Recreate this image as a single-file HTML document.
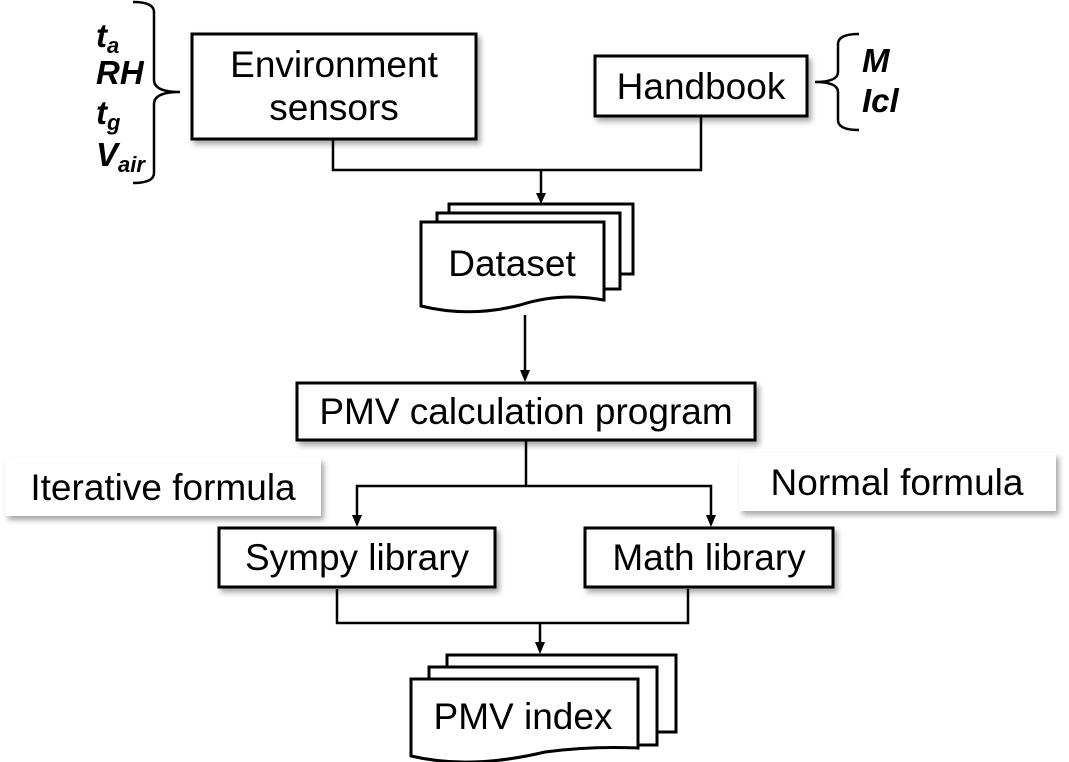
<!DOCTYPE html>
<html><head><meta charset="utf-8"><style>
html,body{margin:0;padding:0;background:#fff;}
svg{display:block;}
text{font-family:"Liberation Sans",Arial,sans-serif;fill:#000;}
.t{font-size:37px;}
.v{font-size:33px;font-weight:bold;font-style:italic;}
.s{font-size:22px;}
</style></head><body>
<svg width="1069" height="762" viewBox="0 0 1069 762" xmlns="http://www.w3.org/2000/svg">
<defs>
<filter id="sh" x="-10%" y="-10%" width="130%" height="140%">
<feGaussianBlur in="SourceAlpha" stdDeviation="3"/>
<feOffset dx="3" dy="4" result="b"/>
<feComponentTransfer><feFuncA type="linear" slope="0.35"/></feComponentTransfer>
<feMerge><feMergeNode/><feMergeNode in="SourceGraphic"/></feMerge>
</filter>
</defs>

<path d="M133,2 Q154,2 154,12 L154,80 Q154,92 180,92 Q154,92 154,104 L154,173 Q154,183 133,183" fill="none" stroke="#000" stroke-width="2.5"/>
<text class="v" x="96" y="47">t<tspan class="s" dy="6">a</tspan></text>
<text class="v" x="96" y="84">RH</text>
<text class="v" x="96" y="124">t<tspan class="s" dy="6">g</tspan></text>
<text class="v" x="96" y="166">V<tspan class="s" dy="6">air</tspan></text>

<rect x="192" y="34" width="284" height="105" fill="#fff" stroke="#000" stroke-width="3" filter="url(#sh)"/>
<text class="t" x="334" y="77" text-anchor="middle">Environment</text>
<text class="t" x="334" y="120" text-anchor="middle">sensors</text>

<rect x="595" y="56" width="212" height="60" fill="#fff" stroke="#000" stroke-width="3" filter="url(#sh)"/>
<text class="t" x="701" y="99" text-anchor="middle">Handbook</text>

<path d="M859,34 Q838,34 838,44 L838,72 Q838,82 815,82 Q838,82 838,92 L838,120 Q838,130 859,130" fill="none" stroke="#000" stroke-width="2.5"/>
<text class="v" x="862" y="72">M</text>
<text class="v" x="862" y="112">Icl</text>

<path d="M333,139 L333,170 L701,170 L701,116" fill="none" stroke="#000" stroke-width="2.5"/>
<line x1="541" y1="170" x2="541" y2="195" stroke="#000" stroke-width="2.5"/>
<path d="M536,193 L546,193 L541,204 Z" fill="#000"/>

<g stroke="#000" stroke-width="3" fill="#fff">
<rect x="449" y="204" width="184" height="70"/>
<rect x="437" y="213" width="183" height="76"/>
<path d="M421,222 L604,222 L604,300 Q560,292 520,305 Q470,318 421,306 Z"/>
</g>
<text class="t" x="512" y="276" text-anchor="middle">Dataset</text>

<line x1="525" y1="315" x2="525" y2="372" stroke="#000" stroke-width="2.5"/>
<path d="M520,370 L530,370 L525,382 Z" fill="#000"/>

<rect x="297" y="383" width="458" height="57" fill="#fff" stroke="#000" stroke-width="3" filter="url(#sh)"/>
<text class="t" x="526" y="424" text-anchor="middle">PMV calculation program</text>

<path d="M526,440 L526,486" fill="none" stroke="#000" stroke-width="2.5"/>
<path d="M357,518 L357,486 L711,486 L711,518" fill="none" stroke="#000" stroke-width="2.5"/>
<path d="M352,515 L362,515 L357,527 Z" fill="#000"/>
<path d="M706,515 L716,515 L711,527 Z" fill="#000"/>

<rect x="5" y="458" width="316" height="58" fill="#fff" filter="url(#sh)"/>
<text class="t" x="163" y="500" text-anchor="middle">Iterative formula</text>
<rect x="739" y="453" width="317" height="58" fill="#fff" filter="url(#sh)"/>
<text class="t" x="897" y="495" text-anchor="middle">Normal formula</text>

<rect x="219" y="528" width="276" height="59" fill="#fff" stroke="#000" stroke-width="3" filter="url(#sh)"/>
<text class="t" x="357" y="570" text-anchor="middle">Sympy library</text>
<rect x="585" y="528" width="248" height="59" fill="#fff" stroke="#000" stroke-width="3" filter="url(#sh)"/>
<text class="t" x="709" y="570" text-anchor="middle">Math library</text>

<path d="M337,589 L337,623 L688,623 L688,589" fill="none" stroke="#000" stroke-width="2.5"/>
<line x1="540" y1="623" x2="540" y2="644" stroke="#000" stroke-width="2.5"/>
<path d="M535,642 L545,642 L540,654 Z" fill="#000"/>

<g stroke="#000" stroke-width="3" fill="#fff">
<rect x="447" y="655" width="229" height="77"/>
<rect x="429" y="667" width="228" height="78"/>
<path d="M411,679 L638,679 L638,748 Q590,746 545,752 Q470,770 411,756 Z"/>
</g>
<text class="t" x="523" y="729" text-anchor="middle">PMV index</text>
</svg>
</body></html>
